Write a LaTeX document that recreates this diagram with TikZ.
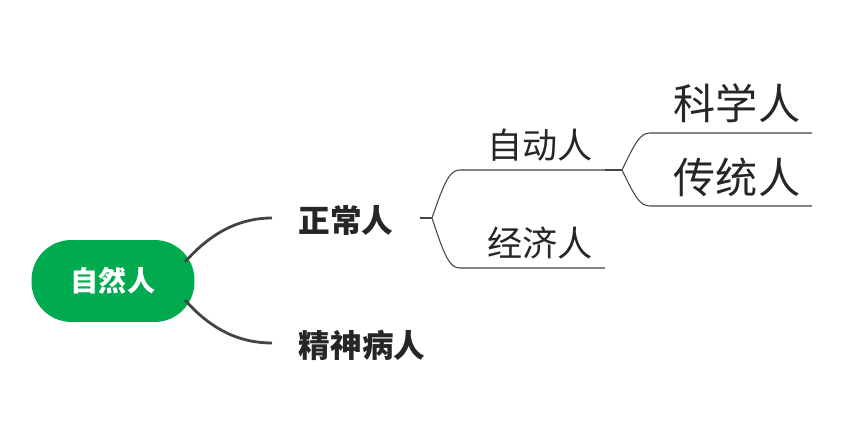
\documentclass[tikz,border=0pt]{standalone}
\usepackage{fontspec}
\newfontfamily\cjk{Noto Sans CJK SC}
\definecolor{rootgreen}{HTML}{00AA4F}
\definecolor{linegray}{HTML}{444444}
\begin{document}
\begin{tikzpicture}[x=0.02cm,y=-0.02cm]
	\tikzset{
		main/.style={font=\cjk\bfseries\fontsize{18}{20}\selectfont, text=black!85},
		sub/.style={font=\cjk\fontsize{20}{22}\selectfont, text=black!85},
		leaf/.style={font=\cjk\fontsize{24}{26}\selectfont, text=black!85},
		thickline/.style={linegray, line width=1.6pt},
		thinline/.style={linegray, line width=0.6pt}
	}
	\useasboundingbox (0,0) rectangle (849,421);
	
	\node[fill=rootgreen, rounded corners=0.8cm, minimum width=3.26cm, minimum height=1.64cm,
		text=white, font=\cjk\bfseries\fontsize{16}{18}\selectfont] (root) at (113,281) {自然人};
	
	\node[main] (zc) at (346,220) {正常人};
	\node[main] (js) at (362,345) {精神病人};
	
	\coordinate (r1) at (185,262);
	\coordinate (r2) at (185,300);
	\draw[thickline] (r1) .. controls (215,228) and (245,218) .. (272,218);
	\draw[thickline] (r2) .. controls (215,334) and (245,343) .. (272,343);
	
	% zheng chang ren
	\coordinate (a0) at (420,218);
	\coordinate (a1) at (432,218);
	\coordinate (zd1) at (460,170);
	\coordinate (zd2) at (605,170);
	\coordinate (jj1) at (460,268);
	\coordinate (jj2) at (605,268);
	\draw[thinline] (a0) -- (a1);
	\draw[thinline] (a1) .. controls (445,180) and (450,170) .. (zd1) -- (zd2);
	\draw[thinline] (a1) .. controls (445,258) and (450,268) .. (jj1) -- (jj2);
	\node[sub] (zd) at (540,145) {自动人};
	\node[sub] (jj) at (540,243) {经济人};
	
	% zi dong ren
	\coordinate (b1) at (622,170);
	\coordinate (kx1) at (650,133);
	\coordinate (kx2) at (812,133);
	\coordinate (ct1) at (650,206);
	\coordinate (ct2) at (812,206);
	\draw[thinline] (zd2) -- (b1);
	\draw[thinline] (b1) .. controls (635,143) and (640,133) .. (kx1) -- (kx2);
	\draw[thinline] (b1) .. controls (635,197) and (640,206) .. (ct1) -- (ct2);
	\node[leaf] (kx) at (737,103) {科学人};
	\node[leaf] (ct) at (737,177) {传统人};
\end{tikzpicture}
\end{document}
